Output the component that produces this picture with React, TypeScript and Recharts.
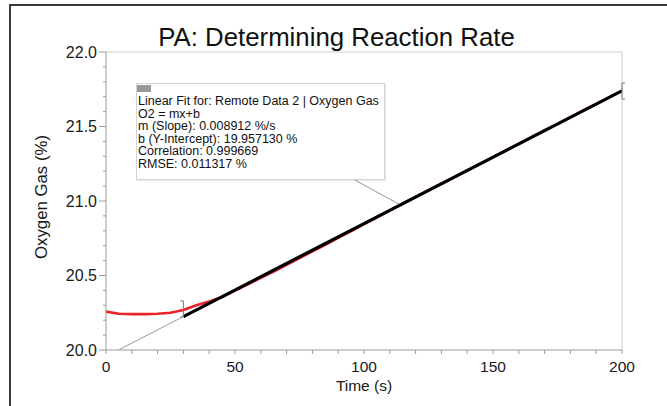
import React from 'react';
import { LineChart, Line, XAxis, YAxis, ReferenceLine, ReferenceDot, Label } from 'recharts';

const timeS = [0, 5, 10, 15, 20, 25, 30, 35, 40, 45, 50, 55, 60, 65, 70, 75, 80, 85, 90, 95, 100,
  105, 110, 115, 120, 125, 130, 135, 140, 145, 150, 155, 160, 165, 170, 175, 180, 185, 190, 195, 200];
const oxygenPct = [20.258, 20.243, 20.241, 20.241, 20.243, 20.25, 20.268, 20.3, 20.325, 20.356, 20.398,
  20.44, 20.484, 20.527, 20.572, 20.617, 20.662, 20.706, 20.752, 20.798, 20.845,
  20.891, 20.937, 20.983, 21.027, 21.072, 21.117, 21.16, 21.206, 21.25, 21.295,
  21.34, 21.385, 21.43, 21.475, 21.518, 21.562, 21.608, 21.651, 21.695, 21.74];

// linear fit (fitted range 30..200 s) and its grey extrapolation
const fitT = [30, 200];
const fitO2 = [20.2245, 21.7395];
const extT = [5, 30];
const extO2 = [20.0017, 20.2245];

// range brackets and callout leader
const bracketT = [30, 200];
const bracketO2 = [20.276, 21.738];
const leaderT = [96.5, 114];
const leaderO2 = [21.14, 20.975];

const xTicks = [0, 10, 20, 30, 40, 50, 60, 70, 80, 90, 100, 110, 120, 130, 140, 150, 160, 170, 180, 190, 200];
const yTicks = [20.0, 20.1, 20.2, 20.3, 20.4, 20.5, 20.6, 20.7, 20.8, 20.9, 21.0,
  21.1, 21.2, 21.3, 21.4, 21.5, 21.6, 21.7, 21.8, 21.9, 22.0];

const fitInfo = [
  'Linear Fit for: Remote Data 2 | Oxygen Gas',
  'O2 = mx+b',
  'm (Slope): 0.008912 %/s',
  'b (Y-Intercept): 19.957130 %',
  'Correlation: 0.999669',
  'RMSE: 0.011317 %',
];

const rawData = timeS.map((t, i) => ({ t, o2: oxygenPct[i] }));
const fitData = fitT.map((t, i) => ({ t, fit: fitO2[i] }));
const extData = extT.map((t, i) => ({ t, ext: extO2[i] }));

const FONT = '"Liberation Sans", Arial, sans-serif';

const YTick = (props: any) => {
  const { x, y, payload } = props;
  const v = payload.value;
  const major = Math.abs(v * 2 - Math.round(v * 2)) < 1e-6;
  return (
    <g>
      <line x1={x - (major ? 7 : 3)} x2={x} y1={y} y2={y} stroke="#9a9a9a" />
      {major && (
        <text x={x - 9} y={y + 5.6} textAnchor="end" fontSize={16} fill="#1a1a1a" fontFamily={FONT}>
          {v.toFixed(1)}
        </text>
      )}
    </g>
  );
};

const XTick = (props: any) => {
  const { x, y, payload } = props;
  const v = payload.value;
  return (
    <g>
      <line x1={x} x2={x} y1={y} y2={y + 4} stroke="#9a9a9a" />
      {v % 50 === 0 && (
        <text x={x} y={y + 22} textAnchor="middle" fontSize={15.5} fill="#1a1a1a" fontFamily={FONT}>
          {v}
        </text>
      )}
    </g>
  );
};

const Bracket = (side: 'left' | 'right') => (props: any) => {
  const { cx, cy } = props;
  const d = side === 'left' ? -3 : 3;
  return (
    <path
      d={`M${cx + d},${cy - 8} L${cx},${cy - 8} L${cx},${cy + 8} L${cx + d},${cy + 8}`}
      stroke="#777"
      strokeWidth={1}
      fill="none"
    />
  );
};

export default function App() {
  return (
    <div style={{ position: 'absolute', left: 0, top: 0, width: 667, height: 406, overflow: 'hidden', background: '#fff', fontFamily: FONT }}>
      <div style={{ position: 'absolute', left: 9, top: 4, width: 800, height: 600, borderLeft: '2px solid #3a3a3a', borderTop: '2px solid #3a3a3a' }} />
      <div style={{ position: 'absolute', left: 0, width: 667, top: 21.5, textAlign: 'center', fontSize: 25.8, color: '#111', paddingLeft: 6, boxSizing: 'border-box', lineHeight: '30px' }}>
        PA: Determining Reaction Rate
      </div>
      <div style={{ position: 'absolute', left: 0, top: 0 }}>
        <LineChart width={667} height={406} margin={{ top: 52, right: 45, bottom: 16, left: 36 }}>
          <XAxis
            dataKey="t"
            type="number"
            domain={[0, 200]}
            ticks={xTicks}
            interval={0}
            tick={<XTick />}
            tickLine={false}
            tickSize={0}
            tickMargin={0}
            height={40}
            stroke="#9a9a9a"
            allowDataOverflow
          >
            <Label
              content={(p: any) => (
                <text x={p.viewBox.x + p.viewBox.width / 2} y={p.viewBox.y + 41} textAnchor="middle" fontSize={15.5} fill="#1a1a1a" fontFamily={FONT}>
                  Time (s)
                </text>
              )}
            />
          </XAxis>
          <YAxis
            type="number"
            domain={[20, 22]}
            ticks={yTicks}
            interval={0}
            tick={<YTick />}
            tickLine={false}
            tickSize={0}
            tickMargin={0}
            width={70}
            stroke="#9a9a9a"
            allowDataOverflow
          >
            <Label
              content={(p: any) => {
                const cx = p.viewBox.x + 11;
                const cy = p.viewBox.y + p.viewBox.height / 2 - 4;
                return (
                  <text x={cx} y={cy} transform={`rotate(-90 ${cx} ${cy})`} textAnchor="middle" fontSize={16.8} fill="#1a1a1a" fontFamily={FONT}>
                    Oxygen Gas (%)
                  </text>
                );
              }}
            />
          </YAxis>
          <ReferenceLine y={22} stroke="#cfcfcf" />
          <ReferenceLine x={200} stroke="#cfcfcf" />
          <ReferenceLine
            segment={[{ x: leaderT[0], y: leaderO2[0] }, { x: leaderT[1], y: leaderO2[1] }]}
            stroke="#999"
            strokeWidth={1}
          />
          <Line data={extData} dataKey="ext" type="linear" dot={false} stroke="#9a9a9a" strokeWidth={1} isAnimationActive={false} />
          <Line data={rawData} dataKey="o2" type="linear" dot={false} stroke="#e8232b" strokeWidth={2.6} isAnimationActive={false} />
          <Line data={fitData} dataKey="fit" type="linear" dot={false} stroke="#000" strokeWidth={3.2} isAnimationActive={false} />
          <ReferenceDot x={bracketT[0]} y={bracketO2[0]} shape={Bracket('left')} />
          <ReferenceDot x={bracketT[1]} y={bracketO2[1]} shape={Bracket('right')} />
        </LineChart>
      </div>
      <div
        style={{
          position: 'absolute',
          left: 136,
          top: 83,
          width: 249,
          height: 97,
          boxSizing: 'border-box',
          border: '1px solid #d4d4d4',
          background: '#fff',
          boxShadow: '1px 1px 1px rgba(0,0,0,0.08)',
        }}
      >
        <div style={{ position: 'absolute', left: 0, top: 1, width: 14, height: 7, background: '#9a9a9a' }} />
        <div style={{ position: 'absolute', left: 1, top: 11, fontSize: 12.5, lineHeight: '12.5px', color: '#111', whiteSpace: 'nowrap' }}>
          {fitInfo.map((s) => (
            <div key={s}>{s}</div>
          ))}
        </div>
      </div>
    </div>
  );
}
